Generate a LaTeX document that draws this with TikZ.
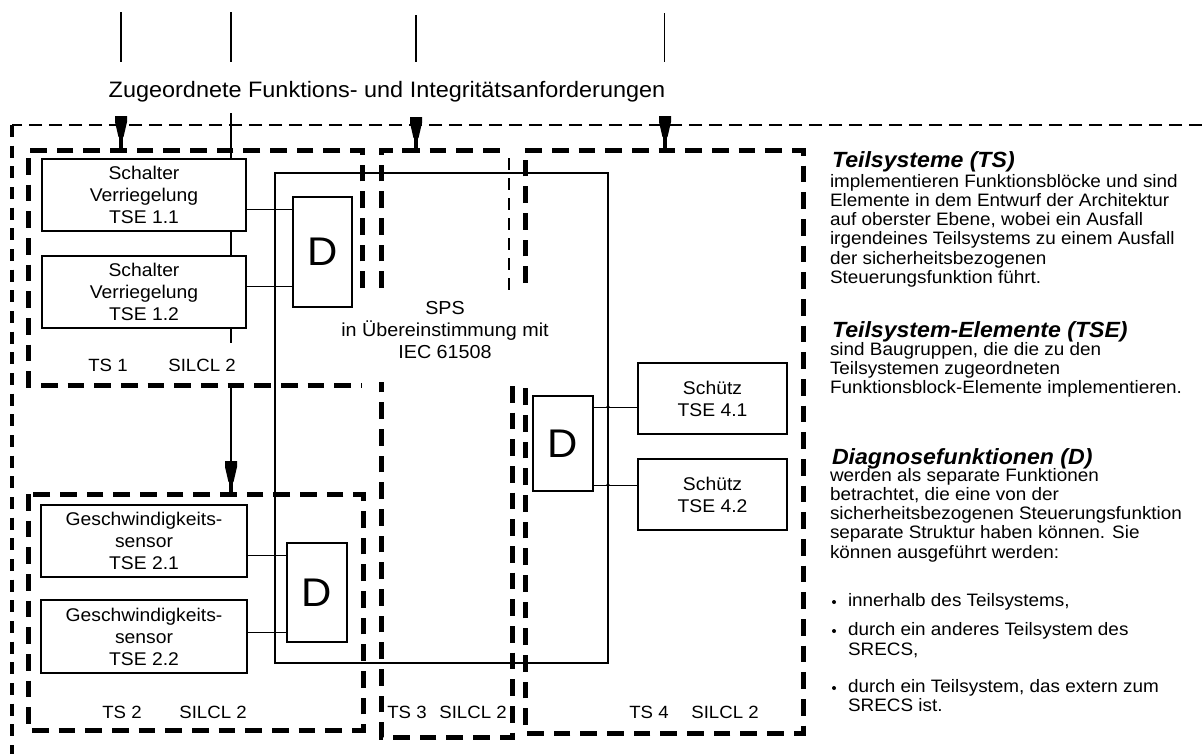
\documentclass[tikz,border=0pt]{standalone}
\usepackage{fontspec}
\setmainfont[FakeStretch=1.05]{Liberation Sans}
\usetikzlibrary{calc}
\begin{document}
\begin{tikzpicture}[x=0.75pt,y=-0.75pt,
  every node/.style={outer sep=0pt},
  tsdash/.style={line width=3.75pt,dash pattern=on 12.5pt off 7.5pt},
  tsdashthin/.style={line width=2.2pt,dash pattern=on 9pt off 6pt},
  outerdash/.style={line width=2.2pt,dash pattern=on 9.5pt off 5.5pt},
  outerleft/.style={line width=3pt,dash pattern=on 9pt off 6.5pt},
  tsebox/.style={draw,line width=2pt,inner sep=0pt,align=center,
    font=\fontsize{13.8pt}{16.5pt}\selectfont},
  dbox/.style={draw,line width=2.2pt,inner sep=0pt,font=\fontsize{30pt}{32pt}\selectfont},
  thin/.style={line width=0.75pt},
  vline/.style={line width=1.1pt},
  lab/.style={font=\fontsize{13.3pt}{14pt}\selectfont,inner sep=0pt},
  rbody/.style={font=\fontsize{13.5pt}{14.5pt}\selectfont,inner sep=0pt,anchor=base west},
  rhead/.style={font=\fontsize{16.5pt}{18pt}\selectfont\bfseries\itshape,inner sep=0pt,anchor=base west},
  reqarrow/.pic={
    \fill (-6,0) -- (6,0) -- (6,6) -- (2.5,21) -- (-2.5,21) -- (-6,6) -- cycle;
    \draw[line width=2.4pt] (0,20) -- (0,33);
  }]
\useasboundingbox (0,0) rectangle (1202,754);

% top requirement lines
\draw[line width=1.9pt] (121,12) -- (121,62);
\draw[vline] (231,12) -- (231,62);
\draw[line width=1.9pt] (416,15) -- (416,62);
\draw[thin] (664,13) -- (664,62);
\node[font=\fontsize{16.75pt}{18pt}\selectfont,inner sep=0pt] (title) at (387,92)
  {Zugeordnete Funktions- und Integritätsanforderungen};

% outer frame
\draw[outerdash] (1202,125) -- (12,125);
\draw[outerleft] (12,125) -- (12,754);

% subsystem frames
\draw[tsdash] (362,288) -- (362,150) -- (28,150) -- (28,385) -- (362,385);
\draw[tsdash] (28,494) rectangle (363,730);
\draw[tsdash] (381,288) -- (381,150) -- (509,150);
\draw[tsdashthin] (509,158) -- (509,292);
\draw[tsdash] (512,386) -- (512,737) -- (381,737) -- (381,382);
\draw[tsdash] (525,283) -- (525,150) -- (803,150) -- (803,733) -- (525,733) -- (525,383);

% SPS
\node[draw,line width=2pt,minimum width=249.75pt,minimum height=367.5pt] (sps) at (441.5,418) {};
\node[font=\fontsize{14.1pt}{16.5pt}\selectfont,align=center,inner sep=0pt] (spstext) at (445,330)
  {SPS\\in Übereinstimmung mit\\IEC 61508};

% TSE boxes
\node[tsebox,minimum width=153pt,minimum height=54pt] (t11) at (144,195) {Schalter\\Verriegelung\\TSE 1.1};
\node[tsebox,minimum width=153pt,minimum height=54pt] (t12) at (144,292) {Schalter\\Verriegelung\\TSE 1.2};
\node[tsebox,minimum width=154.5pt,minimum height=54pt] (t21) at (144,541) {Geschwindigkeits-\\sensor\\TSE 2.1};
\node[tsebox,minimum width=154.5pt,minimum height=54.75pt] (t22) at (144,636.5) {Geschwindigkeits-\\sensor\\TSE 2.2};
\node[tsebox,minimum width=111.75pt,minimum height=53.25pt] (t41) at (712.5,398.5) {Schütz\\TSE 4.1};
\node[tsebox,minimum width=111.75pt,minimum height=53.25pt] (t42) at (712.5,494.5) {Schütz\\TSE 4.2};

% D boxes
\node[dbox,minimum width=44.25pt,minimum height=82.5pt] (d1) at (322.5,252) {D};
\node[dbox,minimum width=45pt,minimum height=74.25pt] (d2) at (317,592.5) {D};
\node[dbox,minimum width=45pt,minimum height=71.25pt] (d3) at (563,443.5) {D};

% connectors
\draw[thin] (t11.east |- 0,209) -- (d1.west |- 0,209);
\draw[thin] (t12.east |- 0,286) -- (d1.west |- 0,286);
\draw[thin] (t21.east |- 0,555) -- (d2.west |- 0,555);
\draw[thin] (t22.east |- 0,632) -- (d2.west |- 0,632);
\draw[thin] (d3.east |- 0,407) -- (t41.west |- 0,407);
\draw[thin] (d3.east |- 0,485) -- (t42.west |- 0,485);
\coordinate (j1) at (608,407);
\coordinate (j2) at (608,485);
\fill (j1) circle (1.8);
\fill (j2) circle (1.8);

% vertical requirement line to TS1 / TS2
\coordinate (v0) at (231,113);
\draw[vline] (v0) -- (v0 |- t11.north);
\draw[vline] (v0 |- t11.south) -- (v0 |- t12.north);
\draw[vline] (v0 |- t12.south) -- (231,343);
\coordinate (v1) at (231,385);
\coordinate (v2) at (231,461);
\draw[vline] (v1) -- (v2);
\pic at (v2) {reqarrow};

% requirement arrows
\coordinate (a1) at (121,116);
\coordinate (a3) at (416,117);
\coordinate (a4) at (665,116);
\pic at (a1) {reqarrow};
\pic at (a3) {reqarrow};
\pic at (a4) {reqarrow};
\draw[tsdash,dash pattern=on 14pt off 0pt] (416,150) -- (402,150);

% labels
\node[lab] (l1a) at (108,365) {TS 1};
\node[lab] (l1b) at (202,365) {SILCL 2};
\node[lab] (l2a) at (122,712) {TS 2};
\node[lab] (l2b) at (213,712) {SILCL 2};
\node[lab] (l3a) at (407,712) {TS 3};
\node[lab] (l3b) at (473,712) {SILCL 2};
\node[lab] (l4a) at (649,712) {TS 4};
\node[lab] (l4b) at (725,712) {SILCL 2};

% right column
\node[rhead] (h1) at (832,167) {Teilsysteme (TS)};
\foreach \t [count=\i] in {implementieren Funktionsblöcke und sind,
  Elemente in dem Entwurf der Architektur,
  {auf oberster Ebene, wobei ein Ausfall},
  irgendeines Teilsystems zu einem Ausfall,
  der sicherheitsbezogenen,
  Steuerungsfunktion führt.}
  \node[rbody] (pa\i) at (830,{187+19.3*(\i-1)}) {\t};
\node[rhead] (h2) at (832,337) {Teilsystem-Elemente (TSE)};
\foreach \t [count=\i] in {{sind Baugruppen, die die zu den},
  Teilsystemen zugeordneten,
  Funktionsblock-Elemente implementieren.}
  \node[rbody] (pb\i) at (830,{355+19.3*(\i-1)}) {\t};
\node[rhead] (h3) at (832,464) {Diagnosefunktionen (D)};
\foreach \t [count=\i] in {werden als separate Funktionen,
  {betrachtet, die eine von der},
  sicherheitsbezogenen Steuerungsfunktion,
  separate Struktur haben können. Sie,
  können ausgeführt werden:}
  \node[rbody] (pc\i) at (830,{481+19.3*(\i-1)}) {\t};
\fill (834,602) circle (2);
\fill (834,631) circle (2);
\fill (834,688) circle (2);
\node[rbody] (q1) at (848,606) {innerhalb des Teilsystems,};
\node[rbody] (q2) at (848,635) {durch ein anderes Teilsystem des};
\node[rbody] (q2b) at (848,655) {SRECS,};
\node[rbody] (q3) at (848,692) {durch ein Teilsystem, das extern zum};
\node[rbody] (q3b) at (848,711) {SRECS ist.};
\end{tikzpicture}
\end{document}
